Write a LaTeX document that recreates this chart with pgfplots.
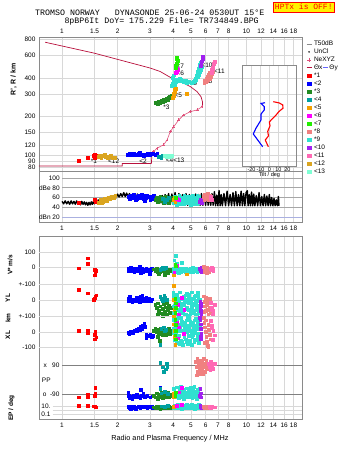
\documentclass[border=0pt]{standalone}
\usepackage{pgfplots}
\pgfplotsset{compat=1.18}
\usepackage{fontspec}
\setmainfont{Liberation Sans}
\newfontfamily\monofont{Liberation Mono}

\definecolor{c1}{HTML}{FF0000}
\definecolor{c2}{HTML}{0000FF}
\definecolor{c3}{HTML}{228B22}
\definecolor{c4}{HTML}{00A0A0}
\definecolor{c5}{HTML}{F5A000}
\definecolor{c6}{HTML}{FF00FF}
\definecolor{c7}{HTML}{22EE00}
\definecolor{c8}{HTML}{F08080}
\definecolor{c9}{HTML}{30E0D0}
\definecolor{c10}{HTML}{A020F0}
\definecolor{c11}{HTML}{FF69B4}
\definecolor{c12}{HTML}{DAA520}
\definecolor{c13}{HTML}{7FFFD4}
\definecolor{crim}{HTML}{B8103C}
\definecolor{nepink}{HTML}{E0507A}
\definecolor{gridc}{HTML}{D8D8D8}
\definecolor{framec}{HTML}{8A8A8A}
\definecolor{darkline}{HTML}{808080}
\definecolor{dbn}{HTML}{AAB0E0}

\pgfplotsset{
  every axis/.append style={scale only axis, width=263pt,
    tick style={draw=none}, anchor=south west,
    tick label style={font=\fontsize{6.5}{7}\selectfont},
    grid style={gridc, line width=0.5pt},
    /pgf/number format/assume math mode=true},
  mypts/.style={only marks, mark=square*, mark size=1.35pt, color=#1, mark options={draw=#1, fill=#1}},
  mysq/.style={legend image code/.code={\draw[##1] plot coordinates {(2.5pt,0pt)};}},
  myln/.style={legend image code/.code={\draw[##1] (0pt,0pt) -- (5pt,0pt);}},
}
\tikzset{mylab/.style={font=\fontsize{6.5}{7}\selectfont, inner sep=0pt, text=black}}

\begin{document}
\begin{tikzpicture}[x=1pt,y=1pt]
\path (0,0) rectangle (335,451);

% ---------------- bottom frame ----------------
\begin{axis}[xmode=log, xmin=0.75, xmax=20, at={(39pt,32pt)}, height=182.3pt, ymin=0, ymax=1, ytick=\empty,
  xtick={1,1.5,2,3,4,5,6,7,8,10,12,14,16,18}, xticklabels={1,1.5,2,3,4,5,6,7,8,10,12,14,16,18},
  axis line style={framec, line width=0.6pt}, xmajorgrids]
\addplot[draw=none, forget plot] coordinates {(1,0.5)};
\end{axis}

% V* band
\begin{axis}[xmode=log, xmin=0.75, xmax=20, at={(39pt,32pt)}, height=182.3pt, xtick=\empty, axis line style={draw=none},
  ymin=-1008.67, ymax=206.67, ytick={0,100}, yticklabels={0,100}, ymajorgrids]
\addplot[mypts=c1] coordinates {(1.23,-4)(1.38,63)(1.38,29)(1.50,-15)(1.51,-33)(1.52,-22)(1.50,-49)};
\addplot[mypts=c2] coordinates {(2.28,-5)(2.30,-20)(2.33,-12)(2.36,0)(2.40,-18)(2.43,-8)(2.46,-25)(2.50,-10)(2.53,-3)(2.56,-20)(2.60,-12)(2.63,5)(2.66,-15)(2.70,-8)(2.74,-30)(2.78,-10)(2.82,-18)(2.86,-5)(2.90,-22)(2.94,-12)(2.98,-40)(3.02,-15)(3.06,-8)(2.66,-35)};
\addplot[mypts=c3] coordinates {(3.15,-10)(3.20,-20)(3.25,-5)(3.30,-25)(3.35,-15)(3.40,-30)(3.45,-8)(3.50,-20)(3.55,-12)(3.60,-28)(3.65,-5)(3.70,-18)(3.75,-35)(3.80,-10)(3.85,-22)(3.90,-15)(3.35,-40)(3.60,-45)};
\addplot[mypts=c4] coordinates {(3.45,-5)(3.50,0)(3.55,-10)(3.65,-2)(3.40,-12)};
\addplot[mypts=c9] coordinates {(4.00,-5)(4.05,-20)(4.10,-12)(4.15,0)(4.20,-25)(4.25,-10)(4.30,-18)(4.35,-5)(4.40,-28)(4.45,-15)(4.50,-8)(4.55,-22)(4.60,-12)(4.65,-30)(4.70,-5)(4.75,-18)(4.80,-10)(4.85,-25)(4.90,-15)(4.95,-3)(5.00,-20)(5.05,-12)(5.10,-28)(5.15,-8)(5.20,-18)(5.25,-5)(5.30,-22)(5.35,-12)(5.40,-30)(5.45,-8)(5.50,-16)(5.55,-4)(4.12,78)(4.45,33)(4.05,50)(4.20,30)(4.02,-28)(4.30,-32)(4.70,-26)(5.10,-2)};
\addplot[mypts=c5] coordinates {(4.03,-50)(4.76,-44)};
\addplot[mypts=c6] coordinates {(4.20,15)(4.05,-30)};
\addplot[mypts=c7] coordinates {(4.10,20)(4.12,10)};
\addplot[mypts=c10] coordinates {(5.60,-5)(5.65,-18)(5.70,-30)(5.62,-12)(5.68,0)};
\addplot[mypts=c8] coordinates {(5.85,5)(5.90,-15)(5.95,-30)(6.00,-5)(6.05,-20)(6.10,0)(6.15,-25)(6.20,-10)(6.25,-30)(6.30,-15)(5.90,10)(6.10,-35)};
\addplot[mypts=c11] coordinates {(6.35,-5)(6.45,-15)(6.55,-8)(6.60,-20)(6.50,0)};
\end{axis}

% YL band
\begin{axis}[xmode=log, xmin=0.75, xmax=20, at={(39pt,32pt)}, height=182.3pt, xtick=\empty, axis line style={draw=none},
  ymin=-757.96, ymax=403.2, ytick={0,100}, yticklabels={0,+-100}, ymajorgrids]
\addplot[mypts=c1] coordinates {(1.23,64)(1.38,43)(1.51,25)(1.50,11)(1.53,30)(1.49,0)};
\addplot[mypts=c2] coordinates {(2.28,10)(2.30,-5)(2.33,20)(2.36,0)(2.40,-10)(2.43,5)(2.46,-8)(2.50,0)(2.53,15)(2.56,-5)(2.60,8)(2.63,-12)(2.66,25)(2.70,0)(2.74,10)(2.78,-5)(2.82,5)(2.86,15)(2.90,-3)(2.94,8)(2.98,2)(3.02,-8)(3.06,5)(2.72,30)};
\addplot[mypts=c3] coordinates {(3.20,-30)(3.25,-50)(3.30,-20)(3.35,-70)(3.40,-40)(3.45,-85)(3.50,-55)(3.55,-25)(3.60,-75)(3.65,-45)(3.70,-95)(3.75,-60)(3.80,-35)(3.85,-80)(3.90,-50)(3.30,-90)(3.50,-100)(3.70,-20)};
\addplot[mypts=c4] coordinates {(3.40,20)(3.45,10)(3.50,-5)(3.55,5)(3.62,15)(3.70,0)(3.58,28)};
\addplot[mypts=c9] coordinates {(4.00,20)(4.00,45)(4.04,-40)(4.04,-80)(4.08,-75)(4.08,-35)(4.12,5)(4.12,0)(4.16,-60)(4.16,-100)(4.20,35)(4.20,20)(4.24,-20)(4.24,-15)(4.28,-90)(4.28,-60)(4.32,-5)(4.32,10)(4.36,50)(4.36,-75)(4.40,-50)(4.40,-40)(4.44,10)(4.44,-20)(4.48,-85)(4.48,5)(4.52,-30)(4.52,-70)(4.56,25)(4.56,15)(4.60,-65)(4.60,-25)(4.64,-10)(4.64,-95)(4.68,-95)(4.68,30)(4.72,40)(4.72,-55)(4.76,-45)(4.76,-5)(4.80,5)(4.80,-100)(4.84,-60)(4.84,20)(4.88,35)(4.88,-15)(4.92,-20)(4.92,-60)(4.96,-90)(4.96,10)(5.00,-5)(5.00,-75)(5.04,50)(5.04,-40)(5.08,-50)(5.08,-20)(5.12,10)(5.12,5)(5.16,-85)(5.16,-70)(5.20,-30)(5.20,15)(5.24,25)(5.24,-25)(5.28,-65)(5.28,-95)(5.32,-10)(5.32,30)(5.36,-95)(5.36,-55)(5.40,40)(5.40,-5)(5.44,-45)(5.44,45)(5.48,20)(5.48,-80)(5.52,-40)(5.52,-35)(5.56,-75)(5.56,0)};
\addplot[mypts=c5] coordinates {(4.03,90)(4.03,0)(4.05,-60)};
\addplot[mypts=c6] coordinates {(4.47,14)(4.25,-30)(4.60,-60)(4.30,-90)};
\addplot[mypts=c7] coordinates {(4.10,10)(4.12,-20)(4.14,-50)(4.10,-80)};
\addplot[mypts=c10] coordinates {(5.62,-10)(5.64,-40)(5.66,-70)(5.68,-95)(5.62,-60)(5.66,-25)};
\addplot[mypts=c8] coordinates {(5.85,25)(5.90,-10)(5.95,-40)(6.00,-70)(6.05,0)(6.10,-30)(6.15,-60)(6.20,-90)(6.25,-20)(6.30,-50)(6.35,-80)(5.90,-75)(6.00,15)(6.15,-5)(6.30,10)};
\addplot[mypts=c11] coordinates {(6.40,-15)(6.50,-45)(6.60,-70)(6.70,-30)(6.55,-95)(6.45,-60)};
\end{axis}

% XL band
\begin{axis}[xmode=log, xmin=0.75, xmax=20, at={(39pt,32pt)}, height=182.3pt, xtick=\empty, axis line style={draw=none},
  ymin=-554.1, ymax=607.0, ytick={-100,0,100}, yticklabels={-100,0,+-100}, ymajorgrids]
\addplot[mypts=c1] coordinates {(1.23,8)(1.38,8)(1.38,-8)(1.51,0)(1.50,-19)(1.53,-34)(1.50,-45)};
\addplot[mypts=c2] coordinates {(2.28,-5)(2.31,-12)(2.34,0)(2.37,-8)(2.40,5)(2.43,-3)(2.46,12)(2.50,5)(2.53,18)(2.56,10)(2.60,25)(2.63,15)(2.66,32)(2.70,22)(2.73,40)(2.76,30)(2.79,51)(2.82,35)(2.86,-15)(2.90,-20)(2.95,-25)(3.00,-18)(3.05,-30)(3.10,-22)(2.86,-40)};
\addplot[mypts=c3] coordinates {(3.15,10)(3.20,25)(3.25,0)(3.30,15)(3.35,-10)(3.40,20)(3.45,5)(3.50,-15)(3.55,18)(3.60,0)(3.65,-19)(3.70,12)(3.75,-5)(3.80,22)(3.85,-10)(3.90,8)(3.38,-55)(3.30,-30)};
\addplot[mypts=c4] coordinates {(3.45,20)(3.55,30)(3.65,15)(3.41,-80)(3.60,5)};
\addplot[mypts=c9] coordinates {(4.00,80)(4.00,-5)(4.04,20)(4.04,85)(4.08,-40)(4.08,-50)(4.12,55)(4.12,30)(4.16,-10)(4.16,-20)(4.20,-70)(4.20,70)(4.24,35)(4.24,-35)(4.28,95)(4.28,50)(4.32,-25)(4.32,-75)(4.36,5)(4.36,20)(4.40,-55)(4.40,90)(4.44,65)(4.44,-60)(4.48,10)(4.48,5)(4.52,-80)(4.52,45)(4.56,45)(4.56,-10)(4.60,-15)(4.60,-30)(4.64,25)(4.64,60)(4.68,-45)(4.68,15)(4.72,75)(4.72,-65)(4.76,0)(4.76,40)(4.80,95)(4.80,-75)(4.84,-25)(4.84,20)(4.88,5)(4.88,90)(4.92,-55)(4.92,-60)(4.96,65)(4.96,5)(5.00,10)(5.00,45)(5.04,-80)(5.04,-10)(5.08,45)(5.08,-30)(5.12,-15)(5.12,60)(5.16,25)(5.16,15)(5.20,-45)(5.20,-65)(5.24,75)(5.24,40)(5.28,0)(5.28,-5)(5.32,80)(5.32,85)(5.36,20)(5.36,-50)(5.40,-40)(5.40,30)(5.44,55)(5.44,-20)(5.48,-10)(5.48,70)(5.52,-70)(5.52,-35)(5.56,35)(5.56,50)};
\addplot[mypts=c5] coordinates {(4.03,100)(4.03,50)(4.05,10)(4.08,-30)(4.10,-80)};
\addplot[mypts=c6] coordinates {(4.20,60)(4.30,30)(4.55,-10)(4.25,-40)};
\addplot[mypts=c7] coordinates {(4.10,80)(4.12,45)(4.14,10)(4.10,-20)(4.13,-45)};
\addplot[mypts=c10] coordinates {(5.60,90)(5.62,80)(5.64,50)(5.66,20)(5.68,-10)(5.63,-30)(5.66,-45)};
\addplot[mypts=c8] coordinates {(5.85,90)(5.90,60)(5.95,30)(6.00,0)(6.05,-30)(6.10,-60)(6.15,-85)(6.20,45)(6.25,15)(6.30,-15)(6.35,-45)(5.90,-70)(6.00,75)(6.20,-95)};
\addplot[mypts=c11] coordinates {(6.40,70)(6.50,40)(6.60,10)(6.70,-20)(6.55,-50)(6.45,25)};
\end{axis}

% Theta x band
\begin{axis}[xmode=log, xmin=0.75, xmax=20, at={(39pt,32pt)}, height=182.3pt, xtick=\empty, axis line style={draw=none},
  ymin=-71.1, ymax=475.8, ytick={90}, yticklabels={x\ \ \ 90}, yticklabel style={xshift=24pt}]
\addplot[darkline, line width=0.6pt] coordinates {(1,90)(20,90)};
\addplot[mypts=c4] coordinates {(3.41,98)(3.68,94)(3.65,78)(3.72,86)(3.50,84)(3.55,70)};
\addplot[mypts=c8] coordinates {(5.30,100)(5.35,85)(5.40,110)(5.45,70)(5.50,95)(5.55,80)(5.60,105)(5.65,90)(5.70,75)(5.75,100)(5.80,85)(5.85,110)(5.90,95)(5.95,70)(6.00,90)(6.05,105)(6.10,80)(6.15,95)(5.35,60)(5.50,65)(5.80,65)};
\addplot[mypts=c11] coordinates {(6.20,95)(6.30,85)(6.40,100)(6.50,90)(6.60,80)(6.70,95)(6.35,75)};
\end{axis}

% PP band
\begin{axis}[xmode=log, xmin=0.75, xmax=20, at={(39pt,32pt)}, height=182.3pt, xtick=\empty, axis line style={draw=none},
  ymin=-165, ymax=381.9, ytick={-90}, yticklabels={o\ \ -90}, yticklabel style={xshift=24pt}]
\addplot[darkline, line width=0.6pt] coordinates {(1,-90)(20,-90)};
\addplot[mypts=c1] coordinates {(1.23,-100)(1.38,-93)(1.38,-98)(1.51,-72)(1.51,-88)(1.50,-96)};
\addplot[mypts=c2] coordinates {(2.28,-85)(2.30,-95)(2.33,-102)(2.36,-98)(2.40,-105)(2.45,-95)(2.50,-100)(2.55,-92)(2.60,-98)(2.65,-103)(2.70,-96)(2.75,-90)(2.66,-78)(2.80,-99)(2.90,-95)(3.00,-100)(3.10,-97)(3.40,-70)};
\addplot[mypts=c3] coordinates {(3.15,-95)(3.20,-100)(3.25,-88)(3.30,-104)(3.35,-92)(3.40,-98)(3.45,-85)(3.50,-102)(3.55,-95)(3.60,-90)(3.65,-100)(3.70,-93)(3.75,-87)(3.80,-98)(3.85,-92)(3.90,-96)};
\addplot[mypts=c4] coordinates {(3.45,-88)(3.60,-84)(3.75,-90)(3.40,-75)};
\addplot[mypts=c9] coordinates {(4.00,-90)(4.04,-75)(4.08,-100)(4.12,-85)(4.16,-95)(4.20,-70)(4.24,-88)(4.28,-102)(4.32,-80)(4.36,-93)(4.40,-68)(4.44,-98)(4.48,-84)(4.52,-90)(4.56,-105)(4.60,-78)(4.64,-92)(4.68,-86)(4.72,-99)(4.76,-73)(4.80,-90)(4.84,-75)(4.88,-100)(4.92,-85)(4.96,-95)(5.00,-70)(5.04,-88)(5.08,-102)(5.12,-80)(5.16,-93)(5.20,-68)(5.24,-98)(5.28,-84)(5.32,-90)(5.36,-105)(5.40,-78)(5.44,-92)(5.48,-86)(5.52,-99)(5.56,-73)(4.10,-92)(4.30,-96)(4.50,-82)(4.70,-94)(4.90,-88)(5.10,-96)(5.30,-82)(5.50,-91)};
\addplot[mypts=c5] coordinates {(4.00,-90)(4.03,-98)};
\addplot[mypts=c6] coordinates {(4.47,-72)(4.30,-85)};
\addplot[mypts=c7] coordinates {(4.10,-95)(4.12,-85)};
\addplot[mypts=c10] coordinates {(5.62,-75)(5.64,-88)(5.66,-100)(5.60,-95)};
\end{axis}
\node[mylab] at (46.3,71) {PP};

% EP band (log)
\begin{axis}[xmode=log, xmin=0.75, xmax=20, at={(39pt,32pt)}, height=19pt, xtick=\empty, axis line style={draw=none},
  ymode=log, ymin=0.00579, ymax=579, ytick={0.1,1,10}, yticklabels={0.1,{},10.}, yticklabel style={xshift=15pt}]
\addplot[gridc, line width=0.5pt] coordinates {(0.89,10)(20,10)};
\addplot[gridc, line width=0.5pt] coordinates {(0.89,1)(20,1)};
\addplot[gridc, line width=0.5pt] coordinates {(0.89,0.1)(20,0.1)};
\addplot[mypts=c1] coordinates {(1.23,18)(1.38,18)(1.51,10)(1.49,14)(1.53,8)};
\addplot[mypts=c2] coordinates {(2.28,12)(2.32,6)(2.36,9)(2.40,4)(2.45,10)(2.50,5)(2.55,8)(2.60,12)(2.65,6)(2.70,9)(2.75,14)(2.80,7)(2.85,10)(2.90,5)(2.95,12)(3.00,8)(3.05,10)(3.10,6)(2.50,3)(2.35,3)};
\addplot[mypts=c3] coordinates {(3.15,8)(3.20,4)(3.25,10)(3.30,5)(3.35,12)(3.40,3)(3.45,9)(3.50,6)(3.55,11)(3.60,4)(3.65,8)(3.70,13)(3.75,6)(3.80,10)(3.85,5)};
\addplot[mypts=c4] coordinates {(3.45,14)(3.60,11)(3.75,15)};
\addplot[mypts=c9] coordinates {(4.00,10)(4.04,6)(4.08,25)(4.12,8)(4.16,15)(4.20,4)(4.24,30)(4.28,9)(4.32,5)(4.36,18)(4.40,12)(4.44,3)(4.48,22)(4.52,7)(4.56,10)(4.60,5)(4.64,16)(4.68,8)(4.72,35)(4.76,6)(4.80,10)(4.84,6)(4.88,25)(4.92,8)(4.96,15)(5.00,4)(5.04,30)(5.08,9)(5.12,5)(5.16,18)(5.20,12)(5.24,3)(5.28,22)(5.32,7)(5.36,10)(5.40,5)(5.44,16)(5.48,8)(5.52,35)(5.56,6)};
\addplot[mypts=c5] coordinates {(4.00,8)(4.03,12)};
\addplot[mypts=c6] coordinates {(4.47,28)(4.20,20)};
\addplot[mypts=c10] coordinates {(5.62,15)(5.65,8)(5.68,5)};
\addplot[mypts=c8] coordinates {(5.85,10)(5.90,5)(5.95,8)(6.00,12)(6.05,6)(6.10,9)(6.15,4)(6.20,11)(6.25,7)(6.30,10)};
\addplot[mypts=c11] coordinates {(6.30,9)(6.40,6)(6.50,11)(6.60,7)(6.70,8)};
\end{axis}

% ---------------- top: height panel ----------------
\begin{axis}[xmode=log, xmin=0.75, xmax=20, at={(39pt,279.3pt)}, height=134.7pt, ymode=log, ymin=74.1, ymax=834,
  xtick={1,1.5,2,3,4,5,6,7,8,10,12,14,16,18}, xticklabels={1,1.5,2,3,4,5,6,7,8,10,12,14,16,18},
  axis line style={framec, line width=0.6pt},
  ytick={80,90,100,120,150,200,300,400,600,800},
  yticklabels={80,90,100,120,150,200,300,400,600,800},
  xticklabel pos=upper, xmajorgrids, ymajorgrids,
  legend style={at={(1,1)}, anchor=north west, xshift=1pt, yshift=-0.7pt, draw=none, fill=none,
    font=\fontsize{6.5}{7}\selectfont, row sep=0pt, column sep=1.5pt, cells={anchor=west},
    nodes={inner sep=0.5pt, text height=5pt, text depth=2pt}}]
\addplot[crim, line width=0.7pt, forget plot] coordinates {(0.75,82)(2.12,82)(2.12,86)(3.05,86)(3.07,100)};
\addplot[nepink, line width=0.6pt, mark=+, mark size=1.4pt, forget plot] coordinates {(3.07,100)(3.135,106)(3.27,113)(3.55,120)(3.71,131)(3.86,152)(4.03,166)(4.29,188)(4.56,205)(4.96,218)(5.40,225)(5.74,238)};
\addplot[crim, line width=0.7pt, forget plot] coordinates {(5.74,238)(5.78,250)(5.77,261)(5.67,285)(5.40,312)(4.96,342)(4.38,374)(3.86,404)(3.41,448)(3.01,477)(1.98,560)(1.50,623)(0.81,759)};
\addplot[mypts=c1, mark size=1.45pt, forget plot] coordinates {(1.23,91)(1.38,95)(1.49,98)(1.51,101)(1.53,99)(1.50,96)};
\addplot[mypts=c12, mark size=1.45pt, forget plot] coordinates {(1.57,97)(1.60,99)(1.63,96)(1.66,98)(1.70,100)(1.73,97)(1.76,95)(1.80,97)(1.84,99)(1.88,96)(1.92,95)};
\addplot[mypts=c2, mark size=1.45pt, forget plot] coordinates {(2.28,100)(2.32,102)(2.36,101)(2.40,100)(2.45,103)(2.50,101)(2.55,100)(2.60,102)(2.64,104)(2.68,101)(2.72,100)(2.76,99)(2.80,101)(2.85,100)(2.90,102)(2.95,100)(3.00,101)(3.05,103)(3.10,102)(3.20,101)(3.28,102)};
\addplot[mypts=c4, mark size=1.45pt, forget plot] coordinates {(3.35,97)(3.45,96)(3.52,98)};
\addplot[mypts=c13, mark size=1.45pt, forget plot] coordinates {(3.60,98)(3.68,97)(3.76,98)(3.85,97)(3.95,98)};
\addplot[mypts=c3, mark size=1.45pt, forget plot] coordinates {(3.20,254)(3.25,258)(3.30,252)(3.35,262)(3.40,256)(3.45,266)(3.50,260)(3.55,270)(3.60,264)(3.65,272)(3.70,276)(3.75,270)(3.80,280)(3.85,284)(3.90,288)(3.95,292)(3.28,250)(3.42,262)};
\addplot[mypts=c5, mark size=1.45pt, forget plot] coordinates {(4.00,280)(4.03,290)(4.05,300)(4.08,310)(4.10,322)(4.12,330)(4.76,303)};
\addplot[mypts=c9, mark size=1.45pt, forget plot] coordinates {(3.95,345)(3.98,360)(4.02,375)(4.06,385)(4.10,352)(4.15,370)(4.20,390)(4.28,380)(4.35,395)(4.42,385)(4.50,378)(4.58,372)(4.66,380)(4.75,368)(4.85,375)(4.95,370)(5.05,366)(5.15,372)(5.25,380)(5.32,398)(5.38,415)(5.42,432)(5.46,450)(5.50,470)(5.54,490)(5.58,510)(5.62,530)(5.45,405)(5.52,420)(5.60,445)(5.68,465)(5.74,485)(5.30,385)(4.00,400)(4.05,420)};
\addplot[mypts=c6, mark size=1.45pt, forget plot] coordinates {(4.15,440)(4.20,450)(4.25,460)(4.18,470)};
\addplot[mypts=c7, mark size=1.45pt, forget plot] coordinates {(4.12,480)(4.15,500)(4.18,520)(4.22,545)(4.16,560)(4.20,580)};
\addplot[mypts=c10, mark size=1.45pt, forget plot] coordinates {(5.62,495)(5.68,515)(5.72,540)(5.76,560)(5.80,585)};
\addplot[mypts=c8, mark size=1.45pt, forget plot] coordinates {(5.90,365)(6.00,372)(6.10,380)(6.20,388)(6.30,395)(6.40,405)(6.05,395)(6.15,410)(6.25,425)(6.35,440)(6.45,455)(5.95,380)(6.30,420)(6.50,430)(6.55,445)};
\addplot[mypts=c11, mark size=1.45pt, forget plot] coordinates {(6.45,440)(6.50,460)(6.55,480)(6.60,500)(6.65,520)(6.70,535)(6.55,470)};
\node[mylab] at (axis cs:1.49,89) {*1};
\node[mylab] at (axis cs:1.905,89) {<12};
\node[mylab] at (axis cs:2.75,89) {<2};
\node[mylab] at (axis cs:4.10,90.3) {<4<13};
\node[mylab] at (axis cs:3.68,238) {*3};
\node[mylab] at (axis cs:4.27,294) {<5};
\node[mylab] at (axis cs:5.21,363) {*9};
\node[mylab] at (axis cs:6.27,378) {*8};
\node[mylab] at (axis cs:7.13,453) {<11};
\node[mylab] at (axis cs:6.11,505) {<10};
\node[mylab] at (axis cs:4.38,496) {<7};
\node[mylab] at (axis cs:4.38,435) {<6};
% legend
\addlegendimage{myln, framec, line width=0.6pt}\addlegendentry{T50dB}
\addlegendimage{mysq, only marks, mark=*, mark size=0.5pt, black}\addlegendentry{UnCl}
\addlegendimage{mysq, only marks, mark=+, mark size=2pt, nepink}\addlegendentry{NeXYZ}
\addlegendimage{myln, crim, line width=0.8pt}\addlegendentry{Θx\,{\color{blue!60}\rule[2pt]{5pt}{0.8pt}}\,Θy}
\addlegendimage{mysq, mypts=c1, mark size=1.7pt}\addlegendentry{*1}
\addlegendimage{mysq, mypts=c2, mark size=1.7pt}\addlegendentry{<2}
\addlegendimage{mysq, mypts=c3, mark size=1.7pt}\addlegendentry{*3}
\addlegendimage{mysq, mypts=c4, mark size=1.7pt}\addlegendentry{<4}
\addlegendimage{mysq, mypts=c5, mark size=1.7pt}\addlegendentry{<5}
\addlegendimage{mysq, mypts=c6, mark size=1.7pt}\addlegendentry{<6}
\addlegendimage{mysq, mypts=c7, mark size=1.7pt}\addlegendentry{<7}
\addlegendimage{mysq, mypts=c8, mark size=1.7pt}\addlegendentry{*8}
\addlegendimage{mysq, mypts=c9, mark size=1.7pt}\addlegendentry{*9}
\addlegendimage{mysq, mypts=c10, mark size=1.7pt}\addlegendentry{<10}
\addlegendimage{mysq, mypts=c11, mark size=1.7pt}\addlegendentry{<11}
\addlegendimage{mysq, mypts=c12, mark size=1.7pt}\addlegendentry{<12}
\addlegendimage{mysq, mypts=c13, mark size=1.7pt}\addlegendentry{<13}
\end{axis}

% ---------------- top: dB panel ----------------
\begin{axis}[xmode=log, xmin=0.75, xmax=20, at={(39pt,228.3pt)}, height=51pt, ymin=8.3, ymax=112.9,
  xtick={1,1.5,2,3,4,5,6,7,8,10,12,14,16,18}, xticklabels={1,1.5,2,3,4,5,6,7,8,10,12,14,16,18},
  axis line style={framec, line width=0.6pt},
  ytick={20,40,60,80,100}, yticklabels={dBn 20,40,60,dBe 80,100}, yticklabel style={xshift=24.2pt},
  xmajorgrids]
\addplot[darkline!70, line width=0.5pt] coordinates {(1,100)(20,100)};
\addplot[darkline!70, line width=0.5pt] coordinates {(1,80)(20,80)};
\addplot[darkline!70, line width=0.5pt] coordinates {(1,60)(20,60)};
\addplot[darkline!70, line width=0.5pt] coordinates {(1,40)(20,40)};
\addplot[dbn, line width=0.6pt] coordinates {(1,20)(20,20)};
\addplot[black, line width=1.4pt, line join=round] coordinates {(1.00,52)(1.02,47)(1.04,53)(1.06,47)(1.08,52)(1.10,46)(1.12,53)(1.14,47)(1.16,52)(1.18,46)(1.20,53)(1.22,47)(1.24,51)(1.26,45)(1.28,52)(1.30,46)(1.32,51)(1.34,45)(1.36,50)(1.38,44)(1.40,50)(1.42,45)(1.44,51)(1.46,46)(1.48,52)(1.50,47)(1.52,54)(1.54,48)(1.57,55)(1.60,49)(1.63,56)(1.66,50)(1.69,58)(1.72,52)(1.75,60)(1.78,54)(1.81,62)(1.84,56)(1.87,63)(1.90,57)(1.93,65)(1.96,59)(2.00,67)(2.04,61)(2.08,68)(2.12,62)(2.16,70)(2.20,62)(2.24,69)(2.28,60)(2.32,68)(2.36,59)(2.40,66)(2.44,58)(2.48,65)(2.52,58)(2.56,67)(2.60,59)(2.65,66)(2.70,58)(2.75,66)(2.80,57)(2.85,65)(2.90,56)(2.95,64)(3.00,55)(3.05,63)(3.10,54)(3.15,63)(3.20,52)(3.26,62)(3.32,50)(3.38,63)(3.44,49)(3.50,64)(3.56,48)(3.62,66)(3.70,47)(3.78,68)(3.86,46)(3.94,67)(4.02,46)(4.10,70)(4.20,45)(4.30,68)(4.40,44)(4.50,66)(4.60,44)(4.70,68)(4.80,44)(4.90,66)(5.00,44)(5.10,65)(5.20,44)(5.30,67)(5.40,44)(5.50,66)(5.60,44)(5.70,68)(5.80,44)(5.90,66)(6.00,44)(6.10,70)(6.20,44)(6.30,66)(6.40,44)(6.50,68)(6.60,44)(6.70,72)(6.80,43)(6.90,65)(7.00,43)(7.10,74)(7.20,43)(7.30,66)(7.40,43)(7.55,68)(7.70,43)(7.85,73)(8.00,43)(8.15,66)(8.30,43)(8.45,70)(8.60,43)(8.75,72)(8.90,43)(9.05,66)(9.20,43)(9.35,73)(9.50,43)(9.65,68)(9.80,43)(9.95,70)(10.1,74)(10.2,43)(10.35,66)(10.5,43)(10.65,71)(10.8,43)(10.95,67)(11.1,43)(11.3,64)(11.5,43)(11.7,70)(11.9,43)(12.1,62)(12.3,43)(12.5,66)(12.7,43)(12.9,63)(13.1,43)(13.3,66)(13.5,43)(13.7,60)(13.9,43)(14.1,58)(14.3,43)(14.5,55)(14.7,43)(14.9,62)(15.0,43)};
\addplot[mypts=c1] coordinates {(1.23,50)(1.50,55)(1.52,52)};
\addplot[mypts=c12] coordinates {(1.58,50)(1.62,55)(1.66,52)(1.70,58)(1.74,54)(1.78,60)(1.82,57)(1.86,62)(1.90,59)(1.94,64)(1.65,48)};
\addplot[mypts=c2] coordinates {(2.28,62)(2.32,58)(2.36,65)(2.40,60)(2.45,67)(2.50,62)(2.55,57)(2.60,64)(2.65,60)(2.70,66)(2.75,58)(2.80,63)(2.85,59)(2.90,65)(2.95,61)(3.00,56)(3.05,62)(3.10,58)(3.15,64)(2.50,55)(2.80,54)};
\addplot[mypts=c3] coordinates {(3.20,55)(3.25,60)(3.30,52)(3.35,58)(3.40,62)(3.45,54)(3.50,59)(3.55,50)(3.60,56)(3.65,61)(3.70,53)(3.75,58)(3.80,49)(3.85,55)(3.90,60)};
\addplot[mypts=c4] coordinates {(3.50,57)(3.60,52)(3.70,55)(3.80,60)};
\addplot[mypts=c9] coordinates {(4.00,55)(4.04,48)(4.08,62)(4.12,52)(4.16,58)(4.20,45)(4.24,60)(4.28,50)(4.32,64)(4.36,53)(4.40,47)(4.44,59)(4.48,51)(4.52,57)(4.56,46)(4.60,63)(4.64,54)(4.68,49)(4.72,61)(4.76,56)(4.80,55)(4.84,48)(4.88,62)(4.92,52)(4.96,58)(5.00,45)(5.04,60)(5.08,50)(5.12,64)(5.16,53)(5.20,47)(5.24,59)(5.28,51)(5.32,57)(5.36,46)(5.40,63)(5.44,54)(5.48,49)(5.52,61)(5.56,56)};
\addplot[mypts=c5] coordinates {(4.00,55)(4.05,60)(4.10,52)};
\addplot[mypts=c6] coordinates {(4.20,58)(4.30,55)};
\addplot[mypts=c7] coordinates {(4.12,60)};
\addplot[mypts=c10] coordinates {(5.60,52)(5.65,56)(5.70,50)};
\addplot[mypts=c8] coordinates {(5.85,62)(5.90,55)(5.95,66)(6.00,58)(6.05,64)(6.10,60)(6.15,68)(6.20,56)(6.25,62)(6.30,65)};
\addplot[mypts=c11] coordinates {(6.35,58)(6.40,62)(6.50,55)};
\end{axis}

% ---------------- tilt inset ----------------
\begin{axis}[at={(242.5pt,284.3pt)}, width=54pt, height=101.7pt,
  xmin=-30, xmax=30, ymode=log, ymin=81, ymax=505,
  ytick={90,100,120,150,200,300,400}, yticklabels={}, ymajorgrids,
  xtick={-20,-10,0,10,20}, xticklabels={-20,-10,0,10,20}, xmajorgrids,
  axis background/.style={fill=white}, axis line style={framec, line width=0.6pt},
  tick label style={font=\fontsize{5.5}{6}\selectfont, inner sep=0.5pt}]
\addplot[c1, line width=1.1pt] coordinates {(4.2,261)(10.9,255)(14.7,246)(15.0,232)(10.6,219)(7.2,205)(2.8,191)(-0.2,181)(0.6,169)(-2.0,153)(-1.1,141)(-4.7,131)(-1.3,116)};
\addplot[c2, line width=1.1pt] coordinates {(-5.0,256)(-9.4,253)(-5.8,239)(-5.8,225)(-9.4,209)(-9.4,188)(-15.0,162)(-18.0,146)(-13.1,131)(-7.6,116)};
\end{axis}
\node[font=\fontsize{5.5}{6}\selectfont] at (269.5,276) {Tilt / deg};

% ---------------- texts ----------------
\node[anchor=base west, inner sep=0pt, font=\monofont\fontsize{8.3}{9}\selectfont] at (35,435) {TROMSO NORWAY\ \ \ DYNASONDE 25-06-24 0530UT 15°E};
\node[anchor=base west, inner sep=0pt, font=\monofont\fontsize{8.3}{9}\selectfont] at (64.3,427.7) {8pBP6It DoY= 175.229 File= TR734849.BPG};
\node[draw=red, line width=0.8pt, fill=yellow, text=red, anchor=north east, inner xsep=1.5pt, inner ysep=1.5pt, text height=5.8pt, text depth=1.5pt, font=\monofont\fontsize{8}{9}\selectfont] at (334.5,449) {HPTx is OFF!};
\node[font=\fontsize{7.3}{8}\selectfont] at (170,12) {Radio and Plasma Frequency / MHz};
\node[rotate=90, font=\bfseries\fontsize{7}{8}\selectfont] at (13.7,371.5) {R', R / km};
\node[rotate=90, font=\bfseries\fontsize{6.5}{7}\selectfont] at (10,186) {V* m/s};
\node[rotate=90, font=\bfseries\fontsize{6.5}{7}\selectfont] at (8,153) {YL};
\node[rotate=90, font=\bfseries\fontsize{6.5}{7}\selectfont] at (8,133) {km};
\node[rotate=90, font=\bfseries\fontsize{6.5}{7}\selectfont] at (8,116) {XL};
\node[rotate=90, font=\bfseries\fontsize{6.5}{7}\selectfont] at (11.5,43) {EP / deg};
\end{tikzpicture}
\end{document}
